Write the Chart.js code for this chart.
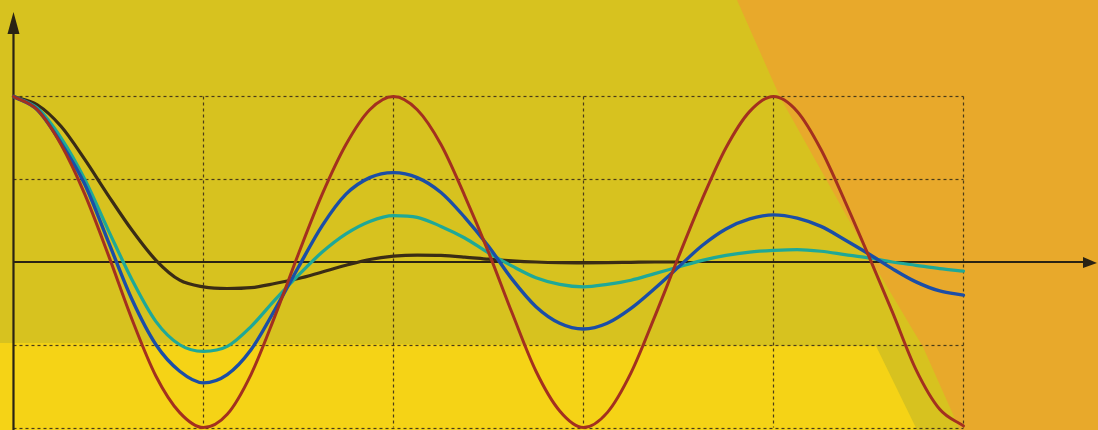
<!DOCTYPE html>
<html>
<head>
<meta charset="utf-8">
<title>Damped oscillations</title>
<style>
  html, body { margin: 0; padding: 0; overflow: hidden; background: #d7c21f; }
  #wrap { width: 1098px; height: 430px; }
</style>
</head>
<body>
<div id="wrap"><canvas id="waveChart" width="1098" height="430"></canvas></div>
<script src="https://cdn.jsdelivr.net/npm/chart.js@4.4.0/dist/chart.umd.min.js"></script>
<script>
// sample positions along the time axis (one grid cell = 1)
const xValues = [
  0, 0.125, 0.25, 0.375, 0.5, 0.625, 0.75, 0.875, 1,
  1.125, 1.25, 1.375, 1.5, 1.625, 1.75, 1.875, 2,
  2.125, 2.25, 2.375, 2.5, 2.625, 2.75, 2.875, 3,
  3.125, 3.25, 3.375, 3.5, 3.625, 3.75, 3.875, 4,
  4.125, 4.25, 4.375, 4.5, 4.625, 4.75, 4.875, 5
];

// undamped (red)
const redWave = [
  1.0, 0.92, 0.71, 0.41, 0.04, -0.35, -0.69, -0.91, -1.0,
  -0.92, -0.68, -0.33, 0.05, 0.41, 0.71, 0.92, 1.0,
  0.92, 0.71, 0.40, 0.06, -0.31, -0.66, -0.90, -1.0,
  -0.91, -0.67, -0.33, 0.03, 0.38, 0.69, 0.91, 1.0,
  0.91, 0.68, 0.37, 0.04, -0.30, -0.65, -0.89, -0.99
];

// weak damping (blue)
const blueWave = [
  1.0, 0.92, 0.72, 0.47, 0.12, -0.23, -0.50, -0.66, -0.73,
  -0.68, -0.53, -0.29, -0.03, 0.22, 0.41, 0.51, 0.54,
  0.51, 0.42, 0.27, 0.095, -0.105, -0.27, -0.37, -0.405,
  -0.37, -0.28, -0.16, -0.03, 0.10, 0.20, 0.26, 0.285,
  0.265, 0.215, 0.135, 0.05, -0.04, -0.12, -0.175, -0.20
];

// stronger damping (teal)
const tealWave = [
  1.0, 0.93, 0.75, 0.50, 0.19, -0.11, -0.36, -0.50, -0.54,
  -0.51, -0.39, -0.23, -0.08, 0.06, 0.17, 0.245, 0.28,
  0.27, 0.215, 0.145, 0.055, -0.025, -0.095, -0.135, -0.15,
  -0.135, -0.11, -0.07, -0.03, 0.01, 0.04, 0.06, 0.07,
  0.075, 0.065, 0.045, 0.025, 0.0, -0.02, -0.04, -0.055
];

// heavy damping (dark brown), runs out along the axis
const darkWave = [
  1.0, 0.95, 0.82, 0.62, 0.40, 0.19, 0.01, -0.11, -0.15,
  -0.16, -0.155, -0.13, -0.10, -0.06, -0.02, 0.015, 0.035,
  0.042, 0.04, 0.03, 0.017, 0.007, 0.0, -0.004, -0.005,
  -0.004, -0.002, 0.0, 0.0
];

const gridX = [1, 2, 3, 4, 5];
const gridY = [1, 0.5, -0.5, -1];

function toPoints(values) {
  return values.map((v, i) => ({ x: xValues[i], y: v }));
}

const backdropPlugin = {
  id: "backdrop",
  beforeDraw(chart) {
    const ctx = chart.ctx;
    const w = chart.width;
    const h = chart.height;
    ctx.save();
    ctx.fillStyle = "#d7c21f";
    ctx.fillRect(0, 0, w, h);

    // orange wedge on the right
    ctx.fillStyle = "#e8a92b";
    ctx.beginPath();
    ctx.moveTo(737, 0);
    ctx.lineTo(w, 0);
    ctx.lineTo(w, h);
    ctx.lineTo(960, h);
    ctx.lineTo(923, 347);
    ctx.lineTo(873, 263);
    ctx.lineTo(780, 97);
    ctx.closePath();
    ctx.fill();

    // light yellow band along the bottom
    ctx.fillStyle = "#f5d316";
    ctx.beginPath();
    ctx.moveTo(0, 343);
    ctx.lineTo(876, 346);
    ctx.lineTo(917, h);
    ctx.lineTo(0, h);
    ctx.closePath();
    ctx.fill();
    ctx.restore();
  }
};

const axesPlugin = {
  id: "handAxes",
  beforeDatasetsDraw(chart) {
    const ctx = chart.ctx;
    const x = chart.scales.x;
    const y = chart.scales.y;
    const x0 = x.getPixelForValue(0);
    const y0 = y.getPixelForValue(0);

    ctx.save();
    // dotted grid
    ctx.strokeStyle = "#4a3b1a";
    ctx.lineWidth = 1.2;
    ctx.setLineDash([3, 3]);
    gridY.forEach((v) => {
      const py = Math.round(y.getPixelForValue(v)) + 0.5;
      ctx.beginPath();
      ctx.moveTo(x0, py);
      ctx.lineTo(x.getPixelForValue(5), py);
      ctx.stroke();
    });
    gridX.forEach((u) => {
      const px = Math.round(x.getPixelForValue(u)) + 0.5;
      ctx.beginPath();
      ctx.moveTo(px, y.getPixelForValue(1));
      ctx.lineTo(px, y.getPixelForValue(-1));
      ctx.stroke();
    });
    ctx.setLineDash([]);

    // axes with arrow heads
    ctx.strokeStyle = "#2a2314";
    ctx.fillStyle = "#2a2314";
    ctx.lineWidth = 2.2;
    ctx.beginPath();
    ctx.moveTo(x0, 30);
    ctx.lineTo(x0, chart.height);
    ctx.stroke();
    ctx.beginPath();
    ctx.moveTo(x0, y0);
    ctx.lineTo(chart.width - 12, y0);
    ctx.stroke();

    ctx.beginPath();
    ctx.moveTo(x0, 12);
    ctx.lineTo(x0 - 6, 34);
    ctx.lineTo(x0 + 6, 34);
    ctx.closePath();
    ctx.fill();

    ctx.beginPath();
    ctx.moveTo(chart.width - 1, y0 + 1);
    ctx.lineTo(chart.width - 15, y0 - 5);
    ctx.lineTo(chart.width - 15, y0 + 6);
    ctx.closePath();
    ctx.fill();
    ctx.restore();
  }
};

function waveDataset(values, color, width) {
  return {
    data: toPoints(values),
    borderColor: color,
    borderWidth: width,
    pointRadius: 0,
    fill: false,
    cubicInterpolationMode: "monotone",
    borderCapStyle: "round"
  };
}

const ctx = document.getElementById("waveChart").getContext("2d");
new Chart(ctx, {
  type: "line",
  data: {
    datasets: [
      waveDataset(redWave, "#a3301f", 3),
      waveDataset(blueWave, "#1b4ea6", 3.4),
      waveDataset(tealWave, "#1fa897", 3.2),
      waveDataset(darkWave, "#3a2c15", 3.2)
    ]
  },
  options: {
    responsive: false,
    animation: false,
    layout: { padding: 0 },
    scales: {
      x: { type: "linear", display: false, min: -0.071, max: 5.708 },
      y: { display: false, min: -1.015, max: 1.583 }
    },
    plugins: {
      legend: { display: false },
      tooltip: { enabled: false }
    }
  },
  plugins: [backdropPlugin, axesPlugin]
});
</script>
</body>
</html>
